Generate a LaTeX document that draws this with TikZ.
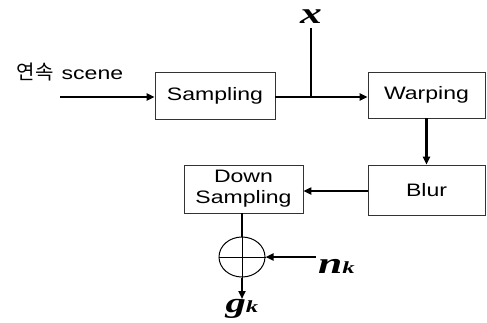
\documentclass[tikz,border=0pt]{standalone}
\usepackage{fontspec}
\setmainfont{Liberation Sans}[FakeStretch=1.28]
\newfontfamily\kr{Noto Sans CJK KR}
\newfontfamily\bi{Liberation Serif Bold Italic}[FakeStretch=1.45]
\usetikzlibrary{shapes.geometric,arrows.meta}
\begin{document}
\begin{tikzpicture}[x=1pt,y=-1pt,
  box/.style={draw=black!80, line width=0.8pt, inner sep=0pt, align=center,
    font=\fontsize{18}{21}\selectfont},
  plain/.style={line width=2.2pt},
  flow/.style={line width=2.2pt, -{Triangle[length=8pt,width=7pt]}},
  lab/.style={inner sep=0pt, font=\bi}]
\useasboundingbox (0,0) rectangle (487,322);
\node[box, minimum width=120pt, minimum height=47pt] (samp) at (215,95.5) {Sampling};
\node[box, minimum width=117pt, minimum height=46pt] (warp) at (426.5,95) {Warping};
\node[box, minimum width=117pt, minimum height=50pt] (blur) at (426.5,190) {Blur};
\node[box, minimum width=119pt, minimum height=48pt] (down) at (243.5,189) {Down\\Sampling};
\node[draw, line width=1pt, ellipse, minimum width=46pt, minimum height=40pt, inner sep=0pt] (sum) at (242,257) {};
\draw[line width=0.6pt] (sum.north) -- (sum.south) (sum.west) -- (sum.east);
\node[inner sep=0pt, font=\fontsize{18}{21}\selectfont] (scene) at (70,72) {{\kr\fontsize{20}{22}\selectfont 연속}\hspace{8pt}scene};
\node[lab, font=\bi\fontsize{30}{30}\selectfont] (x) at (311,17) {x};
\node[lab, anchor=west] (nk) at (318,266) {{\fontsize{30}{30}\selectfont n}{\fontsize{17}{17}\selectfont k}};
\node[lab, anchor=north] (gk) at (242,299) {{\fontsize{28}{28}\selectfont g}{\fontsize{17}{17}\selectfont k}};
\coordinate (in) at (60,97);
\coordinate (br) at (311,97);
\coordinate (xend) at (311,28);
\coordinate (by) at (0,191);
\coordinate (nks) at (316,257);
\draw[flow] (in) -- (samp.west |- in);
\draw[plain] (samp.east |- br) -- (br);
\draw[flow] (br) -- (warp.west |- br);
\draw[plain] (br) -- (xend);
\draw[flow] (warp.south) -- (blur.north);
\draw[flow] (blur.west |- by) -- (down.east |- by);
\draw[plain] (down.south -| sum) -- (sum.north);
\draw[flow] (nks) -- (sum.east);
\draw[flow] (sum.south) -- (gk.north);
\end{tikzpicture}
\end{document}
